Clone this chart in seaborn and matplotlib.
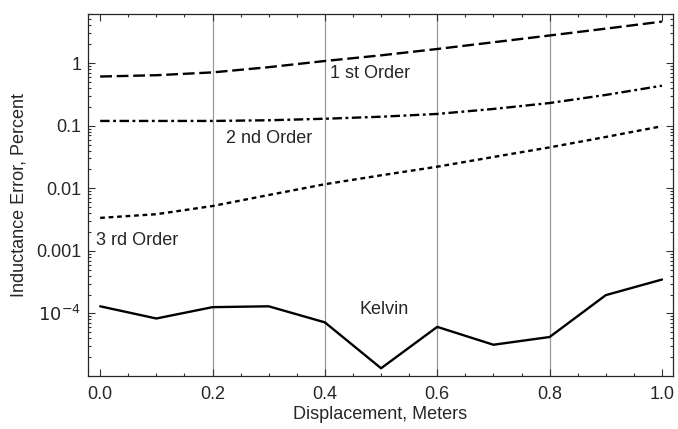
import numpy as np
import pandas as pd
import matplotlib
matplotlib.use('Agg')
import matplotlib.pyplot as plt
from matplotlib.ticker import FixedLocator, FuncFormatter, LogLocator, NullFormatter, MultipleLocator
import seaborn as sns

# data
displacement = [0.0, 0.1, 0.2, 0.3, 0.4, 0.5, 0.6, 0.7, 0.8, 0.9, 1.0]
first_order = [0.61, 0.64, 0.71, 0.86, 1.08, 1.33, 1.68, 2.15, 2.76, 3.55, 4.6]
second_order = [0.119, 0.119, 0.119, 0.122, 0.129, 0.139, 0.154, 0.185, 0.23, 0.31, 0.435]
third_order = [0.00336, 0.00385, 0.0052, 0.0078, 0.0116, 0.0161, 0.0221, 0.0316, 0.045, 0.066, 0.098]
kelvin = [1.3e-4, 8.3e-5, 1.26e-4, 1.3e-4, 7.2e-5, 1.33e-5, 6.1e-5, 3.16e-5, 4.2e-5, 1.96e-4, 3.48e-4]

sns.set_style('ticks')
plt.rcParams['font.family'] = ['Liberation Sans', 'DejaVu Sans']
fs = 13

fig = plt.figure(figsize=(6.78, 4.29), dpi=100)
ax = fig.add_axes([0.13, 0.1235, 0.8626, 0.8435])

for xv in [0.2, 0.4, 0.6, 0.8]:
    ax.axvline(xv, color='#999999', lw=0.9, zorder=0)

styles = [
    (first_order, (0, (5, 2))),
    (second_order, (0, (4, 1.5, 1.2, 1.5))),
    (third_order, (0, (2, 1.6))),
    (kelvin, '-'),
]
for vals, ls in styles:
    df = pd.DataFrame({'x': displacement, 'y': vals})
    sns.lineplot(data=df, x='x', y='y', ax=ax, color='black', lw=1.7, linestyle=ls)

ax.set_yscale('log')
ax.set_xlim(-0.0214, 1.0196)
ax.set_ylim(1e-5, 6.05)

ax.xaxis.set_major_locator(MultipleLocator(0.2))
ax.xaxis.set_minor_locator(MultipleLocator(0.05))
ax.xaxis.set_major_formatter(FuncFormatter(lambda v, p: f'{v:.1f}'))

ax.yaxis.set_major_locator(FixedLocator([1e-4, 1e-3, 1e-2, 1e-1, 1]))
ax.yaxis.set_minor_locator(LogLocator(base=10, subs=np.arange(2, 10)))
ax.yaxis.set_minor_formatter(NullFormatter())
ylabels = {1e-4: r'$10^{-4}$', 1e-3: '0.001', 1e-2: '0.01', 1e-1: '0.1', 1: '1'}
ax.yaxis.set_major_formatter(FuncFormatter(
    lambda v, p: min(ylabels.items(), key=lambda kv: abs(np.log10(kv[0]) - np.log10(v)))[1]))

ax.tick_params(which='both', direction='in', top=True, right=True, labelsize=fs, color='#333333', width=0.8)
ax.tick_params(which='major', length=5)
ax.tick_params(which='minor', length=2.5)
ax.tick_params(axis='x', pad=7)
ax.tick_params(axis='y', pad=5)
for s in ax.spines.values():
    s.set_linewidth(0.9)

ax.set_xlabel('Displacement, Meters', fontsize=fs, labelpad=2)
ax.set_ylabel('Inductance Error, Percent', fontsize=fs, labelpad=6)

ax.text(0.48, 0.68, '1 st Order', fontsize=fs, ha='center', va='center')
ax.text(0.30, 0.062, '2 nd Order', fontsize=fs, ha='center', va='center')
ax.text(0.066, 0.00148, '3 rd Order', fontsize=fs, ha='center', va='center')
ax.text(0.505, 1.17e-4, 'Kelvin', fontsize=fs, ha='center', va='center')

fig.savefig('out.png', dpi=100)
